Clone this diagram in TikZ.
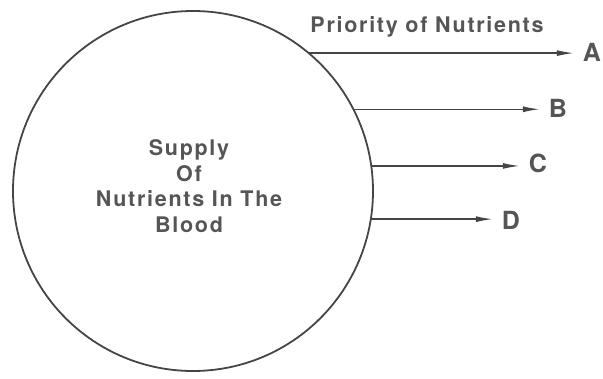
\documentclass[tikz,border=0pt]{standalone}
\usepackage{fontspec}
\setmainfont{TeX Gyre Heros}
\newfontfamily\spacedfont[LetterSpace=8]{TeX Gyre Heros}
\usetikzlibrary{arrows.meta}
\definecolor{ink}{HTML}{454545}
\definecolor{inktext}{HTML}{555555}

\begin{document}
\begin{tikzpicture}[x=1pt,y=-1pt,
    txt/.style={text=inktext,font=\spacedfont\bfseries\fontsize{21.5}{25.5}\selectfont},
    letter/.style={text=inktext,inner sep=9pt,font=\bfseries\fontsize{25}{30}\selectfont}]
      \useasboundingbox (0,0) rectangle (603,379);
      \node[circle,draw=ink,line width=1.8pt,minimum size=360pt,inner sep=0pt,outer sep=0pt] (blood) at (193,191) {};
      \node[txt,align=center] (supply) at (189,186) {Supply\\Of\\Nutrients In The\\Blood};
      \node[txt,anchor=base] (priority) at (427,33) {Priority of Nutrients};
      \draw
        (592,52) node[letter] (A){A}
        (558,108) node[letter] (B){B}
        (538,163) node[letter] (C){C}
        (511,220) node[letter] (D){D};
      \begin{scope}[-{Latex[length=17pt,width=6pt]},draw=ink,line width=1.4pt]
        \draw (blood.50.06) to (blood.50.06 -| A.west);
        \draw (blood.27.8) to (blood.27.8 -| B.west);
        \draw (blood.8.95) to (blood.8.95 -| C.west);
        \draw (blood.-9.27) to (blood.-9.27 -| D.west);
      \end{scope}
    \end{tikzpicture}
\end{document}
